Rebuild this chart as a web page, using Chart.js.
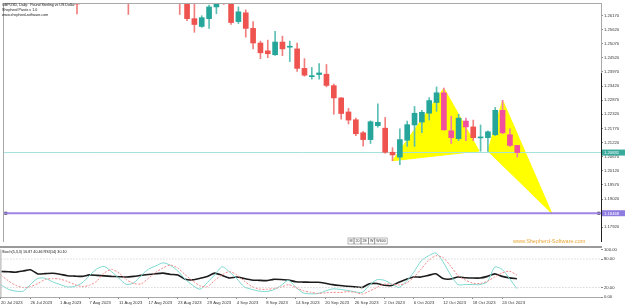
<!DOCTYPE html>
<html lang="en">
<head>
<meta charset="UTF-8">
<title>GBPUSD Daily - Shepherd Pivots</title>
<script src="https://cdn.jsdelivr.net/npm/chart.js"></script>
<style>
  html, body { margin: 0; padding: 0; background: #fff; }
  #wrap { position: relative; width: 625px; height: 307px; overflow: hidden; }
  #main { position: absolute; left: 0; top: 0; }
  #ind { position: absolute; left: 0; top: 246px; }
</style>
</head>
<body>
<div id="wrap">
  <canvas id="main" width="625" height="246"></canvas>
  <canvas id="ind" width="625" height="61"></canvas>
</div>
<script>
// time axis labels (every 4th daily bar)
const timeLabels = ['20 Jul 2023', '26 Jul 2023', '1 Aug 2023', '7 Aug 2023', '11 Aug 2023', '17 Aug 2023',
  '23 Aug 2023', '29 Aug 2023', '4 Sep 2023', '8 Sep 2023', '14 Sep 2023', '20 Sep 2023', '26 Sep 2023',
  '2 Oct 2023', '6 Oct 2023', '12 Oct 2023', '18 Oct 2023', '24 Oct 2023'];
const timeLabelBars = [0, 4, 8, 12, 16, 20, 24, 28, 32, 36, 40, 44, 48, 52, 56, 60, 64, 68];

const priceTicks = [1.26170, 1.25620, 1.25070, 1.24520, 1.23970, 1.23420, 1.22870, 1.22320,
  1.21770, 1.21220, 1.20670, 1.20120, 1.19570, 1.19020, 1.18470, 1.17920];

// daily OHLC, bar 0 = 20 Jul 2023
const open = [1.2936, 1.2866, 1.2855, 1.2822, 1.2893, 1.2935, 1.2845, 1.2850, 1.2835, 1.2780,
  1.2713, 1.2710, 1.2750, 1.2785, 1.2760, 1.2715, 1.2737, 1.2700, 1.2690, 1.2710,
  1.2730, 1.2750, 1.2735, 1.2750, 1.2735, 1.2710, 1.26048, 1.25744, 1.26048, 1.26504,
  1.2690, 1.2672, 1.25934, 1.26276, 1.25668, 1.25098, 1.24794, 1.24642, 1.25136, 1.24935,
  1.24870, 1.24110, 1.23787, 1.23871, 1.23882, 1.23438, 1.22959, 1.22412, 1.22108, 1.21602,
  1.21336, 1.21880, 1.21781, 1.20842, 1.20652, 1.21310, 1.21906, 1.22020, 1.22362, 1.22780,
  1.23160, 1.21678, 1.21374, 1.22058, 1.21830, 1.21401, 1.21412, 1.21526, 1.22476, 1.21526,
  1.21108];
const high = [1.2950, 1.2875, 1.2873, 1.2900, 1.2964, 1.2996, 1.2887, 1.2885, 1.2840, 1.2800,
  1.2740, 1.2778, 1.2790, 1.2790, 1.2782, 1.2818, 1.2745, 1.2715, 1.2720, 1.2760,
  1.2783, 1.2760, 1.2770, 1.2800, 1.2745, 1.2720, 1.2672, 1.26163, 1.26580, 1.2700,
  1.2720, 1.2685, 1.26504, 1.26390, 1.25934, 1.25174, 1.25212, 1.25554, 1.25364, 1.25174,
  1.25098, 1.24490, 1.24148, 1.24300, 1.24262, 1.23502, 1.22970, 1.22552, 1.22172, 1.21652,
  1.22070, 1.22731, 1.22199, 1.21021, 1.21754, 1.22058, 1.22628, 1.22476, 1.22970, 1.23388,
  1.23340, 1.22248, 1.22324, 1.22172, 1.22096, 1.21906, 1.21678, 1.22590, 1.22868, 1.21754,
  1.21108];
const low = [1.2846, 1.2810, 1.2797, 1.2810, 1.2860, 1.2830, 1.2763, 1.2810, 1.2760, 1.2680,
  1.2623, 1.2690, 1.2730, 1.2715, 1.2685, 1.2700, 1.2672, 1.2621, 1.2670, 1.2705,
  1.2720, 1.2710, 1.2725, 1.2720, 1.2621, 1.25972, 1.25516, 1.25707, 1.25668, 1.26238,
  1.2660, 1.25820, 1.25858, 1.25326, 1.24870, 1.24490, 1.24528, 1.24620, 1.24604, 1.24376,
  1.23996, 1.23806, 1.23692, 1.23692, 1.23388, 1.22324, 1.22134, 1.21944, 1.21488, 1.21082,
  1.21184, 1.21819, 1.20804, 1.20512, 1.20360, 1.21070, 1.21070, 1.21602, 1.22096, 1.22438,
  1.21700, 1.21184, 1.21298, 1.21298, 1.21298, 1.20880, 1.20880, 1.21488, 1.21564, 1.21070,
  1.20652];
const close = [1.2866, 1.2855, 1.2822, 1.2893, 1.2935, 1.2845, 1.2850, 1.2835, 1.2780, 1.2713,
  1.2710, 1.2750, 1.2785, 1.2760, 1.2715, 1.2737, 1.2700, 1.2690, 1.2710, 1.2730,
  1.2750, 1.2735, 1.2750, 1.2735, 1.2710, 1.26048, 1.25820, 1.26086, 1.26504, 1.2680,
  1.2672, 1.25896, 1.26314, 1.25668, 1.25098, 1.24718, 1.24680, 1.25136, 1.24870, 1.24958,
  1.24110, 1.23844, 1.23825, 1.23932, 1.23445, 1.22959, 1.22351, 1.22096, 1.21564, 1.21336,
  1.22032, 1.22009, 1.20842, 1.20740, 1.21336, 1.21918, 1.22362, 1.22400, 1.22856, 1.23160,
  1.21716, 1.21412, 1.22172, 1.21830, 1.21412, 1.21420, 1.21640, 1.22476, 1.21602, 1.21108,
  1.20831];

// Stoch(5,3,3) main / signal and RSI(14)
const stochMain = [25.6, 16.3, 12.3, 12.1, 26.6, 39.3, 39.5, 32, 26.2, 21.2,
  22.3, 29.7, 45, 59.1, 64.3, 53.3, 39.5, 26.6, 29.7, 44.8,
  58.5, 65.5, 72, 66.6, 54.6, 37.2, 24.8, 16.3, 30.4, 46.7,
  63.7, 52.9, 38.4, 21.4, 16.1, 12.5, 11.5, 15.2, 24.3, 35.1,
  20.8, 8.4, 6.7, 7.4, 12.5, 17.1, 16.1, 13.8, 11.1, 9.6,
  25, 36.4, 35.3, 27.2, 20.2, 33, 52.3, 75.9, 86.7, 92.7,
  73.4, 46.5, 26.2, 26.2, 26.2, 26.2, 32.2, 63.1, 58.1, 38.6,
  17.5];
const stochSignal = [45.9, 34.1, 24.6, 19.8, 21.9, 28.5, 36.9, 38.8, 37.7, 32.8,
  26.2, 21.9, 24.6, 33.5, 50.4, 58.1, 50.6, 36.7, 28.5, 27.7,
  39.3, 52.1, 61.4, 67.2, 60.8, 46.9, 34.3, 23.7, 21.7, 35,
  46.7, 53.5, 46.5, 33.9, 22.5, 16.7, 16.1, 17.9, 20.8, 26,
  20, 13.2, 10.1, 7.6, 8.6, 9.9, 9.4, 11.3, 10.1, 6.1,
  12.5, 20.2, 27, 26.8, 25.4, 29.3, 41.5, 58.7, 76.7, 86.9,
  82.9, 65.1, 45.3, 35.7, 29.3, 28.5, 33.3, 42.4, 50.6, 54.4,
  45.9];
const rsi = [53.7, 53.1, 52.3, 54.8, 57.3, 48.6, 49.2, 50, 48, 44.8,
  44, 43.4, 46.5, 45.5, 44.4, 43.4, 42.8, 42, 43.4, 45.5,
  47.5, 49, 50.2, 47.5, 46.5, 37.2, 36.1, 39.3, 43.4, 50.2,
  45.5, 40.1, 42, 38.8, 35.9, 35.1, 34.5, 37.2, 36.8, 35.7,
  32, 31.4, 31.2, 31, 28.9, 26, 24.1, 22.7, 21.4, 20.2,
  27.9, 28.3, 24.8, 24.1, 31, 37.2, 42, 42, 45.5, 49,
  38.8, 37.8, 42, 40.7, 39.9, 39.9, 43.4, 48.6, 43.4, 40.3,
  38.6];
const stochLevels = [20, 80];
const indTicks = [0, 20, 80, 100];

// horizontal lines and harmonic pattern (bar index, price)
const bidPrice = 1.20831;
const targetPrice = 1.18468;
const targetAnchors = [0.3, 81.1];
const patternXAB = [[53, 1.20512], [60, 1.2334], [64.8, 1.2089]];
const patternBCD = [[66, 1.2089], [68, 1.22868], [74.7, 1.18468]];

// visible window
const xMin = 0.054, xMax = 81.41;
const yMin = 1.173464, yMax = 1.266184;

const FONT = 'Liberation Sans';
const bars = open.map((_, i) => i);

function inTri(p, t) {
  const s = (a, b, c) => (a[0] - c[0]) * (b[1] - c[1]) - (b[0] - c[0]) * (a[1] - c[1]);
  const d1 = s(p, t[0], t[1]), d2 = s(p, t[1], t[2]), d3 = s(p, t[2], t[0]);
  const neg = d1 < 0 || d2 < 0 || d3 < 0, pos = d1 > 0 || d2 > 0 || d3 > 0;
  return !(neg && pos);
}
// red candles over the yellow pattern show up pink
function inPattern(i) {
  const pts = [[i, (open[i] + close[i]) / 2]];
  for (const dx of [-0.15, 0.15]) for (const v of [open[i], close[i]]) pts.push([i + dx, v]);
  return pts.some(p => inTri(p, patternXAB) || inTri(p, patternBCD));
}
const bodyColor = bars.map(i => close[i] >= open[i] ? '#26a69a' : (inPattern(i) ? '#f2509c' : '#ef5350'));
const wickColor = bars.map(i => close[i] >= open[i] ? '#5cbfb4' : (inPattern(i) ? '#f27bb0' : '#f07f7d'));

const frameMain = {
  id: 'frameMain',
  afterDraw(chart) {
    const { ctx, chartArea: a, scales: { y } } = chart;
    ctx.save();
    ctx.fillStyle = '#a8a8a8';
    ctx.fillRect(a.left - 1, a.top - 1, a.right - a.left + 1, 1);
    ctx.fillRect(a.left - 1, a.top - 1, 1, a.bottom - a.top + 1);
    ctx.fillRect(a.right, a.top - 1, 1, 70);
    ctx.fillStyle = '#222';
    ctx.fillRect(a.right, a.top + 69, 1, a.bottom - a.top - 69);

    // price boxes on the axis
    const box = (price, bg) => {
      const py = y.getPixelForValue(price);
      ctx.fillStyle = bg;
      ctx.fillRect(a.right + 1, py - 3, 23, 6);
      ctx.fillStyle = '#fff';
      ctx.font = '4.2px ' + FONT;
      ctx.textBaseline = 'middle';
      ctx.textAlign = 'left';
      ctx.fillText(price.toFixed(5), a.right + 3, py + 0.3);
    };
    box(bidPrice, '#3aaa9c');
    box(targetPrice, '#8f7ee0');

    // header
    ctx.fillStyle = '#111';
    ctx.font = '3.6px ' + FONT;
    ctx.textBaseline = 'middle';
    ctx.fillText('GBPUSD, Daily:  Pound Sterling vs US Dollar', 2, 4.5);
    ctx.fillText('Shepherd Pivots v 1.0', 2, 9.5);
    ctx.fillText('www.shepherd-software.com', 2, 14.5);

    // watermark
    ctx.fillStyle = '#e8a73a';
    ctx.font = '5.5px ' + FONT;
    ctx.fillText('www.Shepherd-Software.com', 513, 241);

    // small button strip
    const cells = ['M', '20', '2E', 'W', 'W600'];
    let cx = 348;
    ctx.font = '3.6px ' + FONT;
    ctx.strokeStyle = '#888';
    ctx.lineWidth = 0.6;
    for (const c of cells) {
      const w = ctx.measureText(c).width + 3;
      ctx.strokeRect(cx, 238, w, 6);
      ctx.fillStyle = '#333';
      ctx.fillText(c, cx + 1.5, 241);
      cx += w;
    }
    ctx.restore();
  }
};

const frameInd = {
  id: 'frameInd',
  afterDraw(chart) {
    const { ctx, chartArea: a } = chart;
    ctx.save();
    ctx.fillStyle = '#9a9a9a';
    ctx.fillRect(0, 0, a.right + 1, 2);
    ctx.fillStyle = '#a8a8a8';
    ctx.fillRect(a.left - 1, a.top, 1, a.bottom - a.top);
    ctx.fillRect(a.left - 1, a.bottom, a.right - a.left + 1, 1);
    ctx.fillStyle = '#111';
    ctx.font = '3.7px ' + FONT;
    ctx.textBaseline = 'middle';
    ctx.fillText('Stoch(5,3,3) 16.87 40.46 RSI(14) 30.10', 2, 5.5);
    ctx.restore();
  }
};

document.addEventListener('DOMContentLoaded', function () {
  Chart.defaults.font.family = FONT;
  Chart.defaults.animation = false;

  const mainCtx = document.getElementById('main').getContext('2d');
  new Chart(mainCtx, {
    type: 'bar',
    data: {
      datasets: [
        {
          type: 'line', order: 4,
          data: patternXAB.concat([patternXAB[0]]).map(p => ({ x: p[0], y: p[1] })),
          borderColor: '#ffff00', borderWidth: 1, backgroundColor: '#ffff00',
          fill: 'shape', pointRadius: 0, tension: 0
        },
        {
          type: 'line', order: 4,
          data: patternBCD.concat([patternBCD[0]]).map(p => ({ x: p[0], y: p[1] })),
          borderColor: '#ffff00', borderWidth: 1, backgroundColor: '#ffff00',
          fill: 'shape', pointRadius: 0, tension: 0
        },
        {
          type: 'line', order: 3,
          data: [{ x: xMin, y: bidPrice }, { x: xMax, y: bidPrice }],
          borderColor: '#a3e2dc', borderWidth: 1, pointRadius: 0
        },
        {
          type: 'line', order: 3,
          data: [{ x: xMin, y: targetPrice }, { x: xMax, y: targetPrice }],
          borderColor: '#9d86e6', borderWidth: 2, pointRadius: 0
        },
        {
          type: 'line', order: 3, showLine: false,
          data: targetAnchors.map(t => ({ x: t, y: targetPrice })),
          pointStyle: 'rect', pointRadius: 2, pointBackgroundColor: '#111', pointBorderColor: '#111', pointBorderWidth: 0
        },
        {
          order: 2,
          data: bars.map(i => ({ x: i, y: [low[i], high[i]] })),
          backgroundColor: wickColor, barThickness: 1, grouped: false, borderWidth: 0
        },
        {
          order: 1,
          data: bars.map(i => ({ x: i, y: [open[i], close[i]] })),
          backgroundColor: bodyColor, barThickness: 5, grouped: false, borderWidth: 0, minBarLength: 1
        }
      ]
    },
    options: {
      responsive: false,
      events: [],
      layout: { padding: { top: 2, left: 1, right: 0, bottom: 0 } },
      plugins: { legend: { display: false }, tooltip: { enabled: false } },
      scales: {
        x: { type: 'linear', min: xMin, max: xMax, offset: false, display: false },
        y: {
          position: 'right', min: yMin, max: yMax,
          afterFit: s => { s.width = 24; },
          afterBuildTicks: s => { s.ticks = priceTicks.map(v => ({ value: v })); },
          ticks: { autoSkip: false, callback: v => v.toFixed(5), font: { size: 4.2 }, color: '#333', padding: 1 },
          grid: { drawOnChartArea: false, tickLength: 2, color: '#888' },
          border: { display: false }
        }
      }
    },
    plugins: [frameMain]
  });

  const indCtx = document.getElementById('ind').getContext('2d');
  const levelSets = stochLevels.map(l => ({
    data: [{ x: xMin, y: l }, { x: xMax, y: l }],
    borderColor: '#c4c4c4', borderWidth: 1, borderDash: [1, 2], pointRadius: 0
  }));
  new Chart(indCtx, {
    type: 'line',
    data: {
      datasets: levelSets.concat([
        {
          data: bars.map(i => ({ x: i, y: stochSignal[i] })),
          borderColor: '#f58a8a', borderWidth: 1, borderDash: [2, 1.5], pointRadius: 0, tension: 0.25
        },
        {
          data: bars.map(i => ({ x: i, y: stochMain[i] })),
          borderColor: '#7cd8cf', borderWidth: 1, pointRadius: 0, tension: 0.25
        },
        {
          data: bars.map(i => ({ x: i, y: rsi[i] })),
          borderColor: '#1c1c1c', borderWidth: 1.6, pointRadius: 0, tension: 0.2
        }
      ])
    },
    options: {
      responsive: false,
      events: [],
      layout: { padding: { top: 2, left: 1, right: 0, bottom: 0 } },
      plugins: { legend: { display: false }, tooltip: { enabled: false } },
      scales: {
        x: {
          type: 'linear', min: xMin, max: xMax, offset: false,
          afterBuildTicks: s => { s.ticks = timeLabelBars.map(v => ({ value: v })); },
          afterFit: s => { s.height = 10; },
          ticks: {
            autoSkip: false, maxRotation: 0, align: 'start',
            callback: (v, idx) => timeLabels[idx],
            font: { size: 4.2 }, color: '#333', padding: 1
          },
          grid: { drawOnChartArea: false, tickLength: 2, color: '#888' },
          border: { display: false }
        },
        y: {
          position: 'right', min: 0, max: 100,
          afterFit: s => { s.width = 24; },
          afterBuildTicks: s => { s.ticks = indTicks.map(v => ({ value: v })); },
          ticks: { autoSkip: false, callback: v => v.toFixed(2), font: { size: 4.2 }, color: '#333', padding: 1 },
          grid: { drawOnChartArea: false, tickLength: 2, color: '#888' },
          border: { display: false }
        }
      }
    },
    plugins: [frameInd]
  });
});
</script>
</body>
</html>
